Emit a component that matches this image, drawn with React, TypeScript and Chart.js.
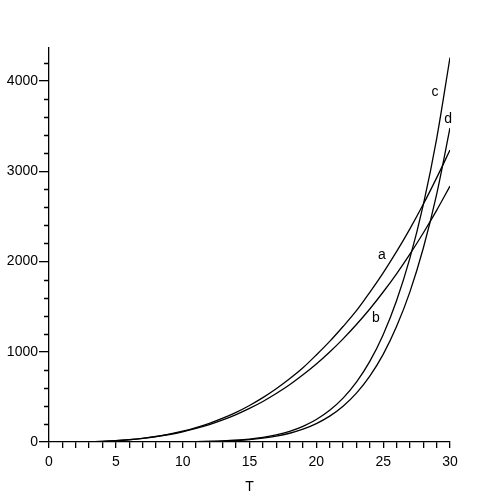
import React, { useEffect, useRef } from "react";
import { Chart, registerables } from "chart.js";

Chart.register(...registerables);

const T = [0, 1, 2, 3, 4, 5, 6, 7, 8, 9, 10, 11, 12, 13, 14, 15, 16, 17, 18, 19, 20, 21, 22, 23, 24, 25, 26, 27, 28, 29, 30];

const seriesA = [0, 0, 1, 3, 8, 15, 26, 41, 61, 87, 120, 160, 207, 264, 329, 405, 492, 590, 700, 823, 965, 1115, 1280, 1455, 1659, 1875, 2109, 2362, 2634, 2927, 3235];
const seriesB = [0, 0, 1, 3, 8, 15, 25, 40, 59, 83, 113, 150, 193, 245, 304, 372, 449, 537, 634, 744, 864, 997, 1143, 1302, 1474, 1662, 1864, 2082, 2316, 2567, 2835];
const seriesC = [0, 0, 0, 0, 0, 0, 0, 0, 1, 1, 2, 4, 7, 12, 20, 33, 52, 80, 119, 174, 249, 351, 486, 663, 893, 1189, 1565, 2037, 2628, 3360, 4260];
const seriesD = [0, 0, 0, 0, 0, 0, 0, 0, 0, 1, 2, 3, 6, 10, 17, 27, 43, 65, 97, 142, 204, 287, 397, 542, 730, 971, 1279, 1664, 2147, 2745, 3480];

const curveNames = ["a", "b", "c", "d"];
const labelT = [24.9, 24.46, 28.88, 29.87];
const labelV = [2072, 1374, 3878, 3579];

const xTickValues = [0, 1, 2, 3, 4, 5, 6, 7, 8, 9, 10, 11, 12, 13, 14, 15, 16, 17, 18, 19, 20, 21, 22, 23, 24, 25, 26, 27, 28, 29, 30];
const xMajorTicks = [0, 5, 10, 15, 20, 25, 30];
const yTickValues = [0, 200, 400, 600, 800, 1000, 1200, 1400, 1600, 1800, 2000, 2200, 2400, 2600, 2800, 3000, 3200, 3400, 3600, 3800, 4000, 4200];
const yMajorTicks = [0, 1000, 2000, 3000, 4000];
const xTitle = "T";

const FONT = '"Liberation Sans", Arial, Helvetica, sans-serif';

export default function App() {
  const ref = useRef<HTMLCanvasElement>(null);

  useEffect(() => {
    Chart.defaults.font.family = FONT;
    Chart.defaults.font.size = 14;
    Chart.defaults.color = "#000";

    const labelPlugin = {
      id: "curveLabels",
      afterDatasetsDraw(chart: any) {
        const ctx = chart.ctx;
        const xs = chart.scales.x;
        const ys = chart.scales.y;
        ctx.save();
        // minor y ticks (short)
        ctx.strokeStyle = "#000";
        ctx.lineWidth = 1.3;
        ctx.beginPath();
        yTickValues.forEach((v) => {
          if (yMajorTicks.includes(v)) return;
          const py = Math.round(ys.getPixelForValue(v)) + 0.5;
          ctx.moveTo(ys.right - 5, py);
          ctx.lineTo(ys.right, py);
        });
        ctx.stroke();
        ctx.font = `14px ${FONT}`;
        ctx.fillStyle = "#000";
        ctx.textAlign = "center";
        ctx.textBaseline = "middle";
        curveNames.forEach((n, i) => {
          ctx.fillText(n, xs.getPixelForValue(labelT[i]), ys.getPixelForValue(labelV[i]));
        });
        ctx.restore();
      },
    };

    const series = [seriesA, seriesB, seriesC, seriesD];
    const chart = new Chart(ref.current as HTMLCanvasElement, {
      type: "line",
      data: {
        datasets: series.map((s, k) => ({
          label: curveNames[k],
          data: T.map((t, i) => ({ x: t, y: s[i] })),
          borderColor: "#000",
          borderWidth: 1.3,
          pointRadius: 0,
          fill: false,
          cubicInterpolationMode: "monotone" as const,
        })),
      },
      options: {
        animation: false,
        responsive: false,
        layout: { padding: { left: 0, top: 48, right: 50, bottom: 0 } },
        plugins: { legend: { display: false }, tooltip: { enabled: false } },
        scales: {
          x: {
            type: "linear",
            min: 0,
            max: 30,
            afterFit(s: any) {
              s.height = 58;
            },
            afterBuildTicks(s: any) {
              s.ticks = xTickValues.map((v) => ({ value: v }));
            },
            border: { display: true, color: "#000", width: 1.3 },
            grid: { drawOnChartArea: false, drawTicks: true, tickLength: 6, color: "#000", lineWidth: 1.3 },
            ticks: {
              autoSkip: false,
              maxRotation: 0,
              padding: 6,
              color: "#000",
              font: { size: 14, family: FONT },
              callback: (v: any) => (xMajorTicks.includes(Number(v)) ? String(v) : ""),
            },
            title: {
              display: true,
              text: xTitle,
              color: "#000",
              font: { size: 14, family: FONT },
              padding: { top: 4, bottom: 4 },
            },
          },
          y: {
            type: "linear",
            min: 0,
            max: 4366,
            afterFit(s: any) {
              s.width = 49;
            },
            afterBuildTicks(s: any) {
              s.ticks = yTickValues.map((v) => ({ value: v }));
            },
            border: { display: true, color: "#000", width: 1.3 },
            grid: {
              drawOnChartArea: false,
              drawTicks: true,
              tickLength: 10,
              lineWidth: 1.3,
              color: (c: any) => (c.tick && yMajorTicks.includes(c.tick.value) ? "#000" : "rgba(0,0,0,0)"),
            },
            ticks: {
              autoSkip: false,
              padding: 1,
              color: "#000",
              font: { size: 14, family: FONT },
              callback: (v: any) => (yMajorTicks.includes(Number(v)) ? String(v) : ""),
            },
          },
        },
      },
      plugins: [labelPlugin],
    });
    return () => chart.destroy();
  }, []);

  return (
    <div style={{ position: "fixed", left: 0, top: 0, width: 500, height: 500, background: "#fff" }}>
      <canvas ref={ref} width={500} height={500} />
    </div>
  );
}
